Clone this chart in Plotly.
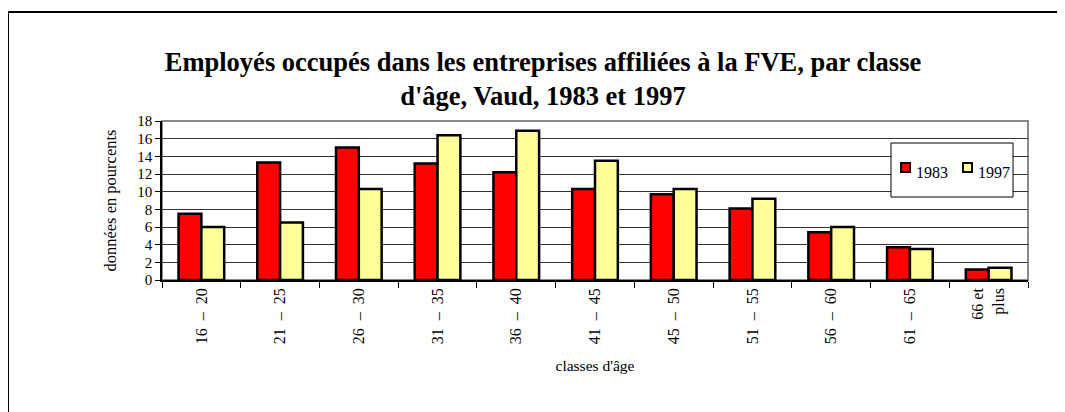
import plotly.graph_objects as go

S = "\u00a0\u00a0"
categories = [f"16{S}\u2013{S}20", f"21{S}\u2013{S}25", f"26{S}\u2013{S}30", f"31{S}\u2013{S}35",
              f"36{S}\u2013{S}40", f"41{S}\u2013{S}45", f"45{S}\u2013{S}50", f"51{S}\u2013{S}55",
              f"56{S}\u2013{S}60", f"61{S}\u2013{S}65", "66 et<br>plus"]
v1983 = [7.5, 13.3, 15.0, 13.2, 12.2, 10.3, 9.7, 8.1, 5.4, 3.7, 1.2]
v1997 = [6.0, 6.5, 10.3, 16.4, 16.9, 13.5, 10.3, 9.2, 6.0, 3.5, 1.4]
yticks = [0, 2, 4, 6, 8, 10, 12, 14, 16, 18]
series_names = ["1983", "1997"]
series_colors = ["#FF0000", "#FFFF99"]

# page body has an 8px margin, so work in figure coordinates (screen - 8)
OFF = 8
W, H = 1065 - OFF, 412 - OFF
L, R, T, B = 162 - OFF, 1028 - OFF, 121 - OFF, 280 - OFF

def px(x):
    return (x - OFF - L) / (R - L)

def py(y):
    return (B - (y - OFF)) / (B - T)

fig = go.Figure()
for name, vals, col in zip(series_names, [v1983, v1997], series_colors):
    fig.add_trace(go.Bar(x=categories, y=vals, name=name, showlegend=False,
                         marker=dict(color=col, line=dict(color="black", width=2.5))))

serif = "Liberation Serif"

# legend box (drawn as shapes + text)
shapes = [
    dict(type="rect", xref="paper", yref="paper", x0=0, x1=1, y0=0, y1=1,
         line=dict(color="#888888", width=2), layer="below"),
    dict(type="rect", xref="paper", yref="paper", x0=px(891), x1=px(1013), y0=py(197), y1=py(143),
         line=dict(color="black", width=1), fillcolor="white", layer="above"),
    dict(type="rect", xref="paper", yref="paper", x0=px(8), x1=px(1090), y0=py(440), y1=py(12),
         line=dict(color="black", width=2), layer="above"),
]
annotations = []
for (sq_x, tx_x), name, col in zip([(901, 914), (963, 976)], series_names, series_colors):
    shapes.append(dict(type="rect", xref="paper", yref="paper",
                       x0=px(sq_x), x1=px(sq_x + 9), y0=py(172), y1=py(163),
                       line=dict(color="black", width=2), fillcolor=col, layer="above"))
    annotations.append(dict(xref="paper", yref="paper", x=px(tx_x), y=py(172),
                            xanchor="left", yanchor="middle", showarrow=False, text=name,
                            font=dict(family=serif, size=16, color="black")))

fig.update_layout(
    width=W, height=H,
    margin=dict(l=L, r=W - R, t=T, b=H - B, autoexpand=False),
    paper_bgcolor="white", plot_bgcolor="white",
    barmode="group", bargap=0.42, bargroupgap=0,
    title=dict(text="<b>Employés occupés dans les entreprises affiliées à la FVE, par classe<br>d'âge, Vaud, 1983 et 1997</b>",
               x=(543 - OFF) / W, xanchor="center", xref="container",
               y=1 - 63 / H, yanchor="top", yref="container",
               font=dict(family=serif, size=26.5, color="black")),
    font=dict(family=serif, color="black"),
    showlegend=False,
    xaxis=dict(type="category", tickangle=-90, tickson="boundaries",
               ticks="outside", ticklen=6, tickcolor="black", tickwidth=1,
               showline=True, linecolor="black", linewidth=1.5,
               showgrid=False, automargin=False,
               tickfont=dict(family="Liberation Sans Narrow", size=16, color="black"),
               title=dict(text="classes d'âge", standoff=17,
                          font=dict(family=serif, size=15.5, color="black"))),
    yaxis=dict(range=[0, 18], tickvals=yticks, ticks="outside", ticklen=5,
               tickcolor="black", tickwidth=1,
               showline=True, linecolor="black", linewidth=1.5,
               showgrid=True, gridcolor="#333333", gridwidth=1, zeroline=False,
               automargin=False,
               tickfont=dict(family=serif, size=15, color="black"),
               title=dict(text="données en pourcents", standoff=16,
                          font=dict(family=serif, size=16.5, color="black"))),
    shapes=shapes,
    annotations=annotations,
)

fig.write_html("out.html")
